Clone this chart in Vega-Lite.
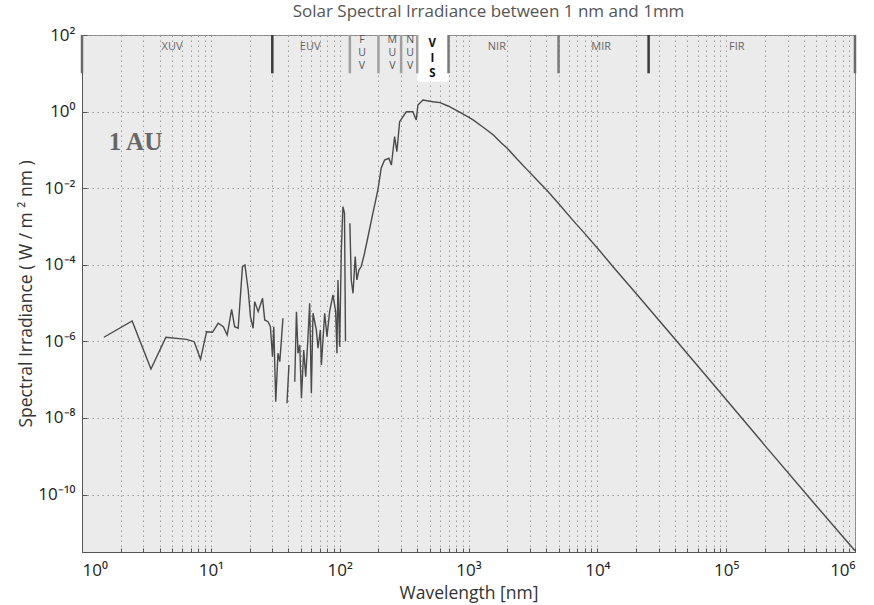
{
  "$schema": "https://vega.github.io/schema/vega-lite/v6.json",
  "width": 773,
  "height": 517,
  "autosize": {"type": "none"},
  "padding": {"left": 82, "top": 35, "right": 19, "bottom": 53},
  "background": "white",
  "title": {"text": "Solar Spectral Irradiance between 1 nm and 1mm", "font": "Open Sans", "fontSize": 17, "fontWeight": "normal", "color": "#555", "offset": 5, "dx": 20},
  "config": {
    "view": {"fill": "#ebebeb", "stroke": "#888", "strokeWidth": 1},
    "axis": {"labelFont": "Open Sans", "titleFont": "Open Sans", "labelColor": "#222", "titleColor": "#333", "titleFontWeight": "normal", "domainColor": "#555", "tickColor": "#555", "gridColor": "#9a9a9a", "gridDash": [1.5, 3.5], "gridOpacity": 1}
  },
  "datasets": {
    "spectrum": [
      {"wl": 1.48, "irr": 1.28e-6, "seg": 1}, {"wl": 2.45, "irr": 3.41e-6, "seg": 1}, {"wl": 3.43, "irr": 1.9e-7, "seg": 1},
      {"wl": 4.48, "irr": 1.28e-6, "seg": 1}, {"wl": 6.48, "irr": 1.13e-6, "seg": 1}, {"wl": 7.43, "irr": 9.8e-7, "seg": 1},
      {"wl": 8.32, "irr": 3.41e-7, "seg": 1}, {"wl": 9.27, "irr": 1.79e-6, "seg": 1}, {"wl": 10.3, "irr": 1.73e-6, "seg": 1},
      {"wl": 11.4, "irr": 2.97e-6, "seg": 1}, {"wl": 12.5, "irr": 2.42e-6, "seg": 1}, {"wl": 13.4, "irr": 1.47e-6, "seg": 1},
      {"wl": 14.5, "irr": 6.89e-6, "seg": 1}, {"wl": 15.3, "irr": 2.42e-6, "seg": 1}, {"wl": 16.3, "irr": 2.2e-6, "seg": 1},
      {"wl": 17.6, "irr": 8.91e-5, "seg": 1}, {"wl": 18.4, "irr": 9.89e-5, "seg": 1}, {"wl": 19.5, "irr": 2.2e-5, "seg": 1},
      {"wl": 20.3, "irr": 4.42e-6, "seg": 1}, {"wl": 21.3, "irr": 2.2e-6, "seg": 1}, {"wl": 21.9, "irr": 1.09e-5, "seg": 1},
      {"wl": 23.3, "irr": 5.96e-6, "seg": 1}, {"wl": 25.2, "irr": 1.33e-5, "seg": 1}, {"wl": 26.2, "irr": 3.62e-6, "seg": 1},
      {"wl": 27.8, "irr": 3.27e-6, "seg": 1}, {"wl": 29.0, "irr": 2.42e-6, "seg": 1}, {"wl": 30.1, "irr": 3.99e-7, "seg": 1},
      {"wl": 30.8, "irr": 2.42e-6, "seg": 1}, {"wl": 31.9, "irr": 2.67e-8, "seg": 1}, {"wl": 33.2, "irr": 4.89e-7, "seg": 1},
      {"wl": 34.3, "irr": 2.95e-7, "seg": 1}, {"wl": 36.3, "irr": 4.01e-6, "seg": 1},
      {"wl": 39.0, "irr": 2.42e-8, "seg": 2}, {"wl": 40.4, "irr": 2.42e-7, "seg": 2},
      {"wl": 44.8, "irr": 8.87e-8, "seg": 3}, {"wl": 46.2, "irr": 5.96e-6, "seg": 3}, {"wl": 47.5, "irr": 4.89e-7, "seg": 3},
      {"wl": 49.0, "irr": 8.05e-7, "seg": 3}, {"wl": 50.5, "irr": 3.27e-8, "seg": 3}, {"wl": 52.6, "irr": 5.96e-7, "seg": 3},
      {"wl": 54.5, "irr": 1.2e-7, "seg": 3}, {"wl": 56.8, "irr": 1.33e-6, "seg": 3}, {"wl": 58.5, "irr": 9.89e-6, "seg": 3},
      {"wl": 60.3, "irr": 4.42e-8, "seg": 3}, {"wl": 62.1, "irr": 5.42e-6, "seg": 3}, {"wl": 65.9, "irr": 1.99e-6, "seg": 3},
      {"wl": 67.9, "irr": 6.61e-7, "seg": 3}, {"wl": 70.8, "irr": 1.99e-6, "seg": 3}, {"wl": 72.1, "irr": 2.42e-7, "seg": 3},
      {"wl": 76.5, "irr": 5.42e-6, "seg": 3}, {"wl": 79.7, "irr": 1.33e-6, "seg": 3}, {"wl": 83.6, "irr": 5.96e-6, "seg": 3},
      {"wl": 88.7, "irr": 1.63e-5, "seg": 3}, {"wl": 93.1, "irr": 5.96e-6, "seg": 3}, {"wl": 95.3, "irr": 4.89e-7, "seg": 3},
      {"wl": 97.0, "irr": 4.01e-5, "seg": 3}, {"wl": 100, "irr": 7.28e-7, "seg": 3}, {"wl": 103, "irr": 2.43e-4, "seg": 3},
      {"wl": 106, "irr": 3.29e-3, "seg": 3}, {"wl": 109, "irr": 2.25e-3, "seg": 3}, {"wl": 111, "irr": 1.0e-6, "seg": 3},
      {"wl": 120, "irr": 1.21e-3, "seg": 4}, {"wl": 123, "irr": 4.01e-5, "seg": 4}, {"wl": 127, "irr": 1.8e-5, "seg": 4},
      {"wl": 132, "irr": 1.63e-4, "seg": 4}, {"wl": 136, "irr": 4.01e-5, "seg": 4}, {"wl": 141, "irr": 7.31e-5, "seg": 4},
      {"wl": 147, "irr": 9.0e-5, "seg": 4}, {"wl": 156, "irr": 2.0e-4, "seg": 4}, {"wl": 181, "irr": 2.21e-3, "seg": 4},
      {"wl": 198, "irr": 8.97e-3, "seg": 4}, {"wl": 210, "irr": 3.31e-2, "seg": 4}, {"wl": 223, "irr": 5.45e-2, "seg": 4},
      {"wl": 241, "irr": 6.04e-2, "seg": 4}, {"wl": 252, "irr": 4.04e-2, "seg": 4}, {"wl": 267, "irr": 0.221, "seg": 4},
      {"wl": 278, "irr": 8.97e-2, "seg": 4}, {"wl": 292, "irr": 0.545, "seg": 4}, {"wl": 329, "irr": 0.99, "seg": 4},
      {"wl": 370, "irr": 0.99, "seg": 4}, {"wl": 393, "irr": 0.604, "seg": 4}, {"wl": 405, "irr": 1.49, "seg": 4},
      {"wl": 443, "irr": 2.01, "seg": 4}, {"wl": 529, "irr": 1.81, "seg": 4}, {"wl": 602, "irr": 1.71, "seg": 4},
      {"wl": 700, "irr": 1.38, "seg": 4}, {"wl": 861, "irr": 0.96, "seg": 4}, {"wl": 1000, "irr": 0.72, "seg": 4},
      {"wl": 1092, "irr": 0.6, "seg": 4}, {"wl": 1300, "irr": 0.39, "seg": 4}, {"wl": 1561, "irr": 0.245, "seg": 4},
      {"wl": 1800, "irr": 0.152, "seg": 4}, {"wl": 2000, "irr": 0.11, "seg": 4}, {"wl": 2400, "irr": 0.056, "seg": 4},
      {"wl": 2836, "irr": 0.031, "seg": 4}, {"wl": 3400, "irr": 0.0163, "seg": 4}, {"wl": 4055, "irr": 0.0088, "seg": 4},
      {"wl": 5000, "irr": 0.004, "seg": 4}, {"wl": 6520, "irr": 0.0014, "seg": 4}, {"wl": 8000, "irr": 0.00065, "seg": 4},
      {"wl": 10510, "irr": 0.000225, "seg": 4}, {"wl": 13340, "irr": 8.6e-5, "seg": 4}, {"wl": 20000, "irr": 1.78e-5, "seg": 4},
      {"wl": 40000, "irr": 1.15e-6, "seg": 4}, {"wl": 85000, "irr": 5.8e-8, "seg": 4}, {"wl": 200000, "irr": 1.9e-9, "seg": 4},
      {"wl": 500000, "irr": 5.1e-11, "seg": 4}, {"wl": 1000000, "irr": 3.4e-12, "seg": 4}
    ],
    "bands": [
      {"band": "XUV", "start": 1, "end": 30, "center": 5.0, "label": "XUV"},
      {"band": "EUV", "start": 30, "end": 120, "center": 59, "label": "EUV"},
      {"band": "FUV", "start": 120, "end": 200, "center": 149, "label": ["F", "U", "V"]},
      {"band": "MUV", "start": 200, "end": 300, "center": 256, "label": ["M", "U", "V"]},
      {"band": "NUV", "start": 300, "end": 400, "center": 352, "label": ["N", "U", "V"]},
      {"band": "VIS", "start": 400, "end": 700, "center": 524, "label": ["V", "I", "S"]},
      {"band": "NIR", "start": 700, "end": 5000, "center": 1660, "label": "NIR"},
      {"band": "MIR", "start": 5000, "end": 25000, "center": 10700, "label": "MIR"},
      {"band": "FIR", "start": 25000, "end": 1000000, "center": 121000, "label": "FIR"}
    ],
    "edges": [
      {"wl": 1, "level": "edge"}, {"wl": 30, "level": "major"}, {"wl": 120, "level": "minor"},
      {"wl": 200, "level": "minor"}, {"wl": 300, "level": "minor"}, {"wl": 400, "level": "minor"},
      {"wl": 700, "level": "mid"}, {"wl": 5000, "level": "mid"}, {"wl": 25000, "level": "major"},
      {"wl": 1000000, "level": "edge"}
    ]
  },
  "layer": [
    {
      "data": {"name": "spectrum"},
      "mark": {"type": "line", "color": "#4a4a4a", "strokeWidth": 1.4},
      "encoding": {
        "x": {"field": "wl", "type": "quantitative", "scale": {"type": "log", "domain": [1, 1000000], "nice": false},
          "axis": {"title": "Wavelength [nm]", "titleFontSize": 17.5, "titlePadding": 6, "labelFontSize": 17, "labelPadding": 14, "tickSize": -4, "grid": true,
            "values": [1,2,3,4,5,6,7,8,9,10,20,30,40,50,60,70,80,90,100,200,300,400,500,600,700,800,900,1000,2000,3000,4000,5000,6000,7000,8000,9000,10000,20000,30000,40000,50000,60000,70000,80000,90000,100000,200000,300000,400000,500000,600000,700000,800000,900000,1000000],
            "labelExpr": "round(log(datum.value)/LN10)==0 && datum.value<1.5 ? '10⁰' : abs(log(datum.value)/LN10 - round(log(datum.value)/LN10)) > 0.01 ? '' : round(log(datum.value)/LN10)==1 ? '10¹' : round(log(datum.value)/LN10)==2 ? '10²' : round(log(datum.value)/LN10)==3 ? '10³' : round(log(datum.value)/LN10)==4 ? '10⁴' : round(log(datum.value)/LN10)==5 ? '10⁵' : round(log(datum.value)/LN10)==6 ? '10⁶' : ''"}},
        "y": {"field": "irr", "type": "quantitative", "scale": {"type": "log", "domain": [3.162e-12, 100], "nice": false},
          "axis": {"title": "Spectral Irradiance ( W / m ² nm )", "titleFontSize": 17.5, "titlePadding": 2, "labelFontSize": 17, "labelPadding": 12, "tickSize": -5, "grid": true,
            "values": [1e-10, 1e-8, 1e-6, 1e-4, 0.01, 1, 100],
            "labelExpr": "round(log(datum.value)/LN10)==2 ? '10²' : round(log(datum.value)/LN10)==0 ? '10⁰' : round(log(datum.value)/LN10)==-2 ? '10⁻²' : round(log(datum.value)/LN10)==-4 ? '10⁻⁴' : round(log(datum.value)/LN10)==-6 ? '10⁻⁶' : round(log(datum.value)/LN10)==-8 ? '10⁻⁸' : '10⁻¹⁰'"}},
        "detail": {"field": "seg", "type": "nominal"}
      }
    },
    {
      "data": {"name": "bands"},
      "transform": [{"filter": "datum.band == 'VIS'"}],
      "mark": {"type": "rect", "fill": "white"},
      "encoding": {
        "x": {"field": "start", "type": "quantitative", "scale": {"type": "log", "domain": [1, 1000000], "nice": false}},
        "x2": {"field": "end"},
        "y": {"datum": 100, "type": "quantitative", "scale": {"type": "log", "domain": [3.162e-12, 100], "nice": false}},
        "y2": {"datum": 6}
      }
    },
    {
      "data": {"name": "edges"},
      "mark": {"type": "rule"},
      "encoding": {
        "x": {"field": "wl", "type": "quantitative", "scale": {"type": "log", "domain": [1, 1000000], "nice": false}},
        "y": {"datum": 100, "type": "quantitative", "scale": {"type": "log", "domain": [3.162e-12, 100], "nice": false}},
        "y2": {"datum": 10},
        "color": {"field": "level", "type": "nominal", "scale": {"domain": ["edge", "major", "mid", "minor"], "range": ["#6a6a6a", "#3a3a3a", "#7a7a7a", "#a0a0a0"]}, "legend": null},
        "strokeWidth": {"field": "level", "type": "nominal", "scale": {"domain": ["edge", "major", "mid", "minor"], "range": [2.5, 2.5, 2.2, 1.2]}, "legend": null}
      }
    },
    {
      "data": {"name": "bands"},
      "transform": [{"filter": "indexof(['XUV','EUV','NIR','MIR','FIR'], datum.band) >= 0"}],
      "mark": {"type": "text", "font": "Open Sans", "fontSize": 11, "color": "#666", "baseline": "middle"},
      "encoding": {
        "x": {"field": "center", "type": "quantitative", "scale": {"type": "log", "domain": [1, 1000000], "nice": false}},
        "y": {"datum": 48, "type": "quantitative", "scale": {"type": "log", "domain": [3.162e-12, 100], "nice": false}},
        "text": {"field": "label"}
      }
    },
    {
      "data": {"name": "bands"},
      "transform": [{"filter": "indexof(['FUV','MUV','NUV'], datum.band) >= 0"}],
      "mark": {"type": "text", "font": "Open Sans", "fontSize": 10.5, "color": "#555", "baseline": "top", "lineHeight": 12.8},
      "encoding": {
        "x": {"field": "center", "type": "quantitative", "scale": {"type": "log", "domain": [1, 1000000], "nice": false}},
        "y": {"datum": 100, "type": "quantitative", "scale": {"type": "log", "domain": [3.162e-12, 100], "nice": false}},
        "text": {"field": "label"}
      }
    },
    {
      "data": {"name": "bands"},
      "transform": [{"filter": "datum.band == 'VIS'"}],
      "mark": {"type": "text", "font": "Open Sans", "fontSize": 11.5, "fontWeight": "bold", "color": "#111", "baseline": "top", "lineHeight": 15},
      "encoding": {
        "x": {"field": "center", "type": "quantitative", "scale": {"type": "log", "domain": [1, 1000000], "nice": false}},
        "y": {"datum": 82, "type": "quantitative", "scale": {"type": "log", "domain": [3.162e-12, 100], "nice": false}},
        "text": {"field": "label"}
      }
    },
    {
      "data": {"values": [{"note": "1 AU", "wl": 2.6, "irr": 0.16}]},
      "mark": {"type": "text", "font": "Liberation Serif", "fontSize": 25, "fontWeight": "bold", "color": "#666"},
      "encoding": {
        "x": {"field": "wl", "type": "quantitative", "scale": {"type": "log", "domain": [1, 1000000], "nice": false}},
        "y": {"field": "irr", "type": "quantitative", "scale": {"type": "log", "domain": [3.162e-12, 100], "nice": false}},
        "text": {"field": "note"}
      }
    }
  ]
}
